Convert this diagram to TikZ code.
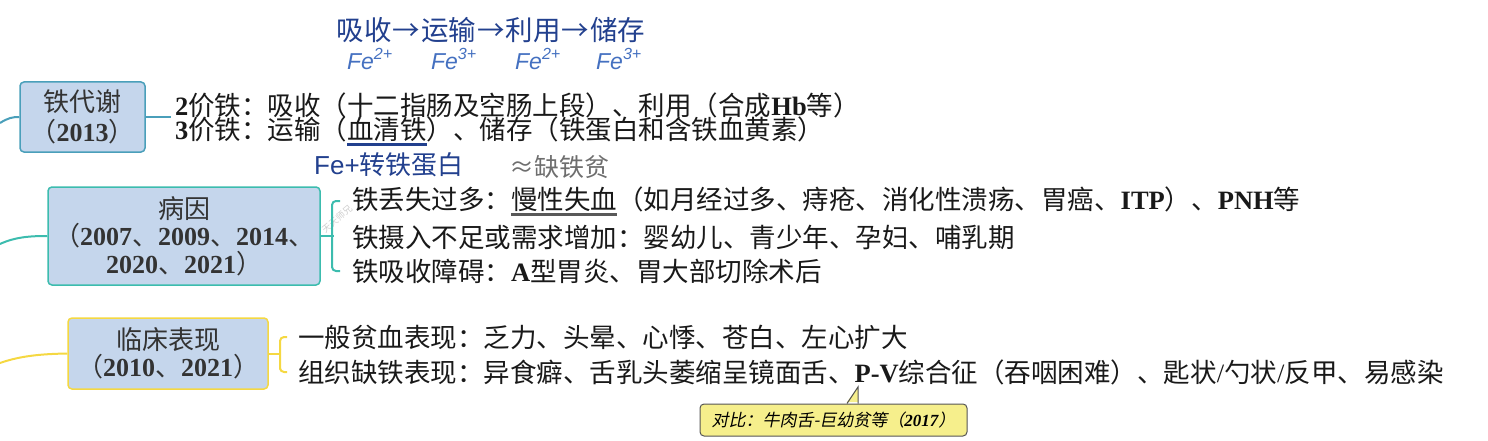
\documentclass[tikz,border=0pt]{standalone}
\usepackage{fontspec}
\usepackage{xcolor}
\usepackage{tikz}
\usetikzlibrary{positioning,calc}

\setmainfont{Noto Sans CJK SC}
\newfontfamily\latinfont{Liberation Serif}
\newfontfamily\penlatin{Liberation Sans}
\newfontfamily\slantcjk[FakeSlant=0.2]{Noto Sans CJK SC}
\newfontfamily\slantlatin{Liberation Serif}

\definecolor{boxfill}{HTML}{C5D6EC}
\definecolor{boxtext}{HTML}{333333}
\definecolor{tealA}{HTML}{4A9FBA}
\definecolor{tealB}{HTML}{3CBCAE}
\definecolor{goldC}{HTML}{F5D842}
\definecolor{penblue}{HTML}{22408E}
\definecolor{penlight}{HTML}{4470C0}
\definecolor{pengrey}{HTML}{6E6E6E}
\definecolor{notefill}{HTML}{F6EF8C}
\definecolor{noteline}{HTML}{555555}

\newcommand\num[1]{{\latinfont\bfseries #1}}
\newcommand\markline[2]{\setbox0\hbox{#2}\leavevmode
  \rlap{\color{#1}\rule[-6.5pt]{\wd0}{3pt}}\box0}

\begin{document}
\begin{tikzpicture}[
  x=1pt, y=-1pt,
  topic/.style={draw, line width=1.5pt, rounded corners=4pt, fill=boxfill,
                align=center, text=boxtext, inner sep=0pt,
                font=\fontsize{26}{27.5}\selectfont},
  branch/.style={line width=2pt},
  brace/.style={line width=2pt, rounded corners=4pt},
  item/.style={anchor=west, inner sep=0pt, text=black!90,
               font=\fontsize{26.5}{28}\selectfont},
  pen/.style={inner sep=0pt, text=penblue, font=\fontsize{27.5}{29}\selectfont},
  fe/.style={inner sep=0pt, text=penlight, font=\penlatin\itshape\fontsize{23}{25}\selectfont},
  note/.style={draw=noteline, line width=1pt, fill=notefill, rounded corners=4pt,
               minimum width=267pt, minimum height=32pt, inner sep=0pt,
               font=\slantcjk\fontsize{17}{19}\selectfont}
]
  \useasboundingbox (0,0) rectangle (1488,441);

  % Iron metabolism
  \node[topic, draw=tealA, minimum width=125pt, minimum height=70pt,
        font=\fontsize{26}{30}\selectfont] (metab)
    at (82.5,117) {铁代谢\\（\num{2013}）};
  \coordinate (inA) at (0,123);
  \draw[branch, tealA] (inA) .. controls (8,118) and (12,117) .. (metab.west);
  \draw[branch, tealA] (metab.east) -- ++(25,0);

  \node[item] (m1) at (175,105)
    {\num{2}价铁：吸收（十二指肠及空肠上段）、利用（合成\num{Hb}等）};
  \node[item] (m2) at (175,131)
    {\num{3}价铁：运输（\markline{penblue}{血清铁}）、储存（铁蛋白和含铁血黄素）};

  % handwritten notes
  \node[pen] (flow) at (491,30)
    {吸收\kern1pt→\kern1pt运输\kern1pt→\kern1pt利用\kern1pt→\kern1pt储存};
  \node[fe] (fe1) at (370,59) {Fe\textsuperscript{2+}};
  \node[fe] (fe2) at (454,59) {Fe\textsuperscript{3+}};
  \node[fe] (fe3) at (538,59) {Fe\textsuperscript{2+}};
  \node[fe] (fe4) at (619,59) {Fe\textsuperscript{3+}};
  \node[pen, font=\fontsize{26}{28}\selectfont] (tf) at (389,165)
    {{\penlatin Fe+}转铁蛋白};
  \node[pen, text=pengrey, font=\fontsize{25}{27}\selectfont] (approx)
    at (559,167) {≈缺铁贫};

  % Causes
  \node[topic, draw=tealB, minimum width=272pt, minimum height=98pt] (cause)
    at (184,236) {病因\\（\num{2007}、\num{2009}、\num{2014}、\\\num{2020}、\num{2021}）};
  \coordinate (inB) at (0,244);
  \draw[branch, tealB] (inB) .. controls (15,237) and (30,236) .. (cause.west);
  \node[rotate=40, text=gray!40, font=\fontsize{9}{9}\selectfont] (wm)
    at (337,219) {天天师兄};

  \node[item] (c1) at (352,201)
    {铁丢失过多：\markline{black!65}{慢性失血}（如月经过多、痔疮、消化性溃疡、胃癌、\num{ITP}）、\num{PNH}等};
  \node[item] (c2) at (352,237) {铁摄入不足或需求增加：婴幼儿、青少年、孕妇、哺乳期};
  \node[item] (c3) at (352,271) {铁吸收障碍：\num{A}型胃炎、胃大部切除术后};
  \draw[branch, tealB] (cause.east) -- ++(13,0);
  \draw[brace, tealB] ([xshift=-12pt]c1.west) -| ([xshift=-20pt]c2.west)
    |- ([xshift=-12pt]c3.west);

  % Clinical signs
  \node[topic, draw=goldC, minimum width=200pt, minimum height=71pt] (clin)
    at (168,353.5) {临床表现\\（\num{2010}、\num{2021}）};
  \coordinate (inC) at (0,363);
  \draw[branch, goldC] (inC) .. controls (20,356) and (40,354) .. (clin.west);

  \node[item] (k1) at (298,337) {一般贫血表现：乏力、头晕、心悸、苍白、左心扩大};
  \node[item] (k2) at (298,372)
    {组织缺铁表现：异食癖、舌乳头萎缩呈镜面舌、\num{P-V}综合征（吞咽困难）、匙状{\latinfont /}勺状{\latinfont /}反甲、易感染};
  \draw[branch, goldC] (clin.east) -- ++(12,0);
  \draw[brace, goldC] ([xshift=-11pt]k1.west) -| ([xshift=-18pt]k2.west)
    |- ([xshift=-11pt]k2.west);

  % comparison callout
  \node[note] (cmp) at (833.5,420)
    {对比：牛肉舌-巨幼贫等（{\slantlatin\bfseries\itshape 2017}）};
  \coordinate (tip) at (858,387);
  \fill[notefill] ([xshift=13.5pt,yshift=1.5pt]cmp.north) -- (tip)
    -- ([xshift=24.5pt,yshift=1.5pt]cmp.north) -- cycle;
  \draw[noteline, line width=1pt] ([xshift=13.5pt]cmp.north) -- (tip)
    -- ([xshift=24.5pt]cmp.north);
\end{tikzpicture}
\end{document}
